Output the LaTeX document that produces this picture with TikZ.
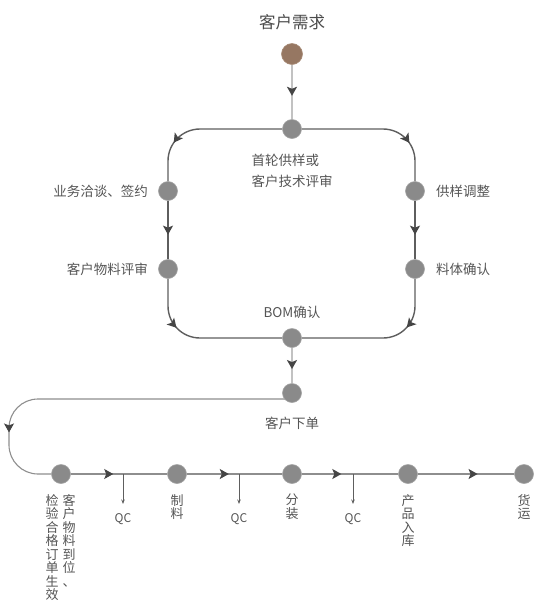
\documentclass[tikz,border=0pt]{standalone}
\usepackage{fontspec}
\setmainfont{Noto Sans CJK SC}
\usetikzlibrary{arrows.meta,decorations.markings}
\pgfdeclarelayer{background}
\pgfsetlayers{background,main}
\definecolor{txt}{HTML}{555555}
\definecolor{titletxt}{HTML}{4A4A4A}
\definecolor{dotgray}{HTML}{8A8A8A}
\definecolor{dotedge}{HTML}{A2A2A2}
\definecolor{browndot}{HTML}{967762}
\definecolor{brownedge}{HTML}{A88C78}
\definecolor{linedark}{HTML}{5E5E5E}
\definecolor{linelight}{HTML}{C2C2C2}
\definecolor{linemid}{HTML}{8E8E8E}
\definecolor{arrowc}{HTML}{454545}
\tikzset{
  dot/.style={circle, fill=dotgray, draw=dotedge, line width=0.6pt, minimum size=19pt, inner sep=0pt},
  startdot/.style={dot, fill=browndot, draw=brownedge, minimum size=21pt},
  lbl/.style={text=txt, font=\fontsize{13.5}{21}\selectfont, inner sep=0pt},
  vlbl/.style={lbl, align=center, anchor=north, font=\fontsize{13}{13.5}\selectfont},
  qclbl/.style={lbl, font=\fontsize{12}{14}\selectfont},
  loopline/.style={draw=linedark, line width=1.4pt, rounded corners=32pt},
  lightline/.style={draw=linelight, line width=2pt},
  rowline/.style={draw=linemid, line width=1.1pt},
  qcline/.style={draw=linedark, line width=0.8pt, -{Stealth[length=4.5pt,width=3.5pt]}},
  midarrow/.style={postaction={decorate}, decoration={markings, mark=at position #1 with {\arrow{Stealth[length=9pt,width=10pt,inset=2pt,color=arrowc]}}}}
}
\begin{document}
\begin{tikzpicture}[x=1pt,y=-1pt]
\useasboundingbox (0,0) rectangle (543,614);
% nodes
\node[lbl, text=titletxt, font=\fontsize{16.5}{20}\selectfont] (title) at (292,22) {客户需求};
\node[startdot] (start) at (292,54) {};
\node[dot] (top) at (292,129) {};
\node[dot] (l1) at (168,191) {};
\node[dot] (l2) at (168,269) {};
\node[dot] (r1) at (415,191) {};
\node[dot] (r2) at (415,269) {};
\node[dot] (bom) at (292,338) {};
\node[dot] (order) at (292,393) {};
\node[dot] (b1) at (61,474) {};
\node[dot] (b2) at (177,474) {};
\node[dot] (b3) at (292,474) {};
\node[dot] (b4) at (408,474) {};
\node[dot] (b5) at (524,474) {};
% labels
\node[lbl, align=left] (toplbl) at (292,170.5) {首轮供样或\\客户技术评审};
\node[lbl, anchor=east] (l1lbl) at (148,191) {业务洽谈、签约};
\node[lbl, anchor=east] (l2lbl) at (148,269) {客户物料评审};
\node[lbl, anchor=west] (r1lbl) at (436,191) {供样调整};
\node[lbl, anchor=west] (r2lbl) at (436,269) {料体确认};
\node[lbl] (bomlbl) at (292,312) {BOM确认};
\node[lbl] (orderlbl) at (292,423) {客户下单};
\node[vlbl] (b1lbla) at (69,494) {客\\户\\物\\料\\到\\位\\、};
\node[vlbl] (b1lblb) at (52,494) {检\\验\\合\\格\\订\\单\\生\\效};
\node[vlbl] (b2lbl) at (177,494) {制\\料};
\node[vlbl] (b3lbl) at (292,494) {分\\装};
\node[vlbl] (b4lbl) at (408,494) {产\\品\\入\\库};
\node[vlbl] (b5lbl) at (524,494) {货\\运};
\node[qclbl] (qc1) at (123,519) {QC};
\node[qclbl] (qc2) at (239,519) {QC};
\node[qclbl] (qc3) at (353,519) {QC};
% helper coordinates
\coordinate (lc1) at (9,399);
\coordinate (lc2) at (9,474);
\coordinate (q1a) at (123,474);
\coordinate (q1b) at (123,504);
\coordinate (q2a) at (239,474);
\coordinate (q2b) at (239,504);
\coordinate (q3a) at (353,474);
\coordinate (q3b) at (353,504);
% connectors
\begin{pgfonlayer}{background}
\draw[lightline, midarrow=0.57] (start) -- (top);
\draw[loopline, midarrow=0.74] (top) -| (l1);
\draw[loopline, midarrow=0.74] (top) -| (r1);
\draw[loopline, midarrow=0.58] (l1) -- (l2);
\draw[loopline, midarrow=0.58] (r1) -- (r2);
\draw[loopline, midarrow=0.32] (l2) |- (bom);
\draw[loopline, midarrow=0.32] (r2) |- (bom);
\draw[lightline, midarrow=0.6] (bom) -- (order);
\draw[rowline, rounded corners=29pt, midarrow=0.81] ([yshift=-6pt]order.center) -- (lc1) -- (lc2) -- (b1);
\draw[rowline, midarrow=0.44] (b1) -- (b2);
\draw[rowline, midarrow=0.44] (b2) -- (b3);
\draw[rowline, midarrow=0.41] (b3) -- (b4);
\draw[rowline, midarrow=0.62] (b4) -- (b5);
\draw[qcline] (q1a) -- (q1b);
\draw[qcline] (q2a) -- (q2b);
\draw[qcline] (q3a) -- (q3b);
\end{pgfonlayer}
\end{tikzpicture}
\end{document}
